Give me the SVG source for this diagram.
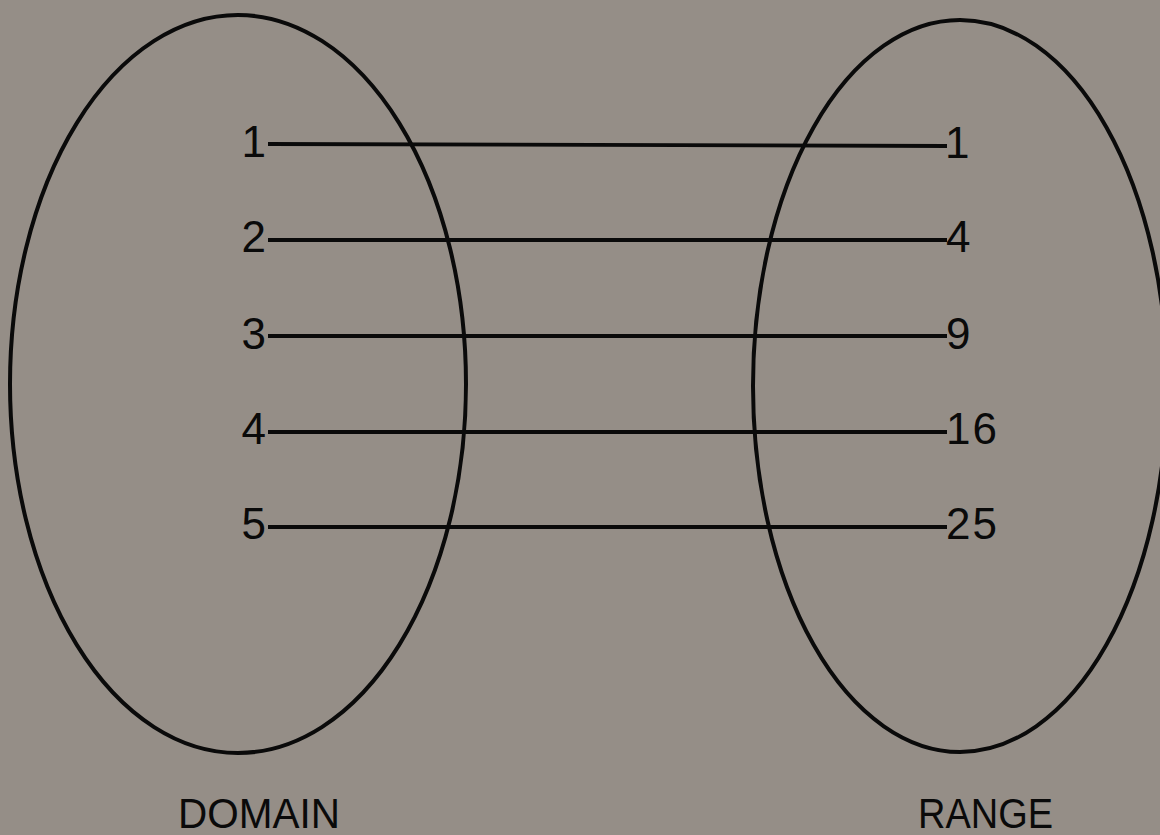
<svg xmlns="http://www.w3.org/2000/svg" width="1160" height="835" viewBox="0 0 1160 835">
<style>
.set{fill:none;stroke:#0a0a0a;stroke-width:4}
.edge{stroke:#0a0a0a;stroke-width:3.8}
.num{font-family:"Liberation Sans",Arial,sans-serif;font-size:44px;fill:#0a0a0a}
.cap{font-family:"Liberation Sans",Arial,sans-serif;font-size:43px;fill:#0a0a0a}
</style>
<rect width="1160" height="835" fill="#958e87"/>
<g id="domain">
<ellipse class="set" cx="238" cy="384" rx="228" ry="369"/>
<text class="cap" x="178" y="828" textLength="162" lengthAdjust="spacingAndGlyphs">DOMAIN</text>
</g>
<g id="range">
<ellipse class="set" cx="960" cy="386" rx="207" ry="366"/>
<text class="cap" x="918" y="828" textLength="135" lengthAdjust="spacingAndGlyphs">RANGE</text>
</g>
<g id="domain-values">
<text class="num" x="266" y="157" text-anchor="end">1</text>
<text class="num" x="266" y="252" text-anchor="end">2</text>
<text class="num" x="266" y="349" text-anchor="end">3</text>
<text class="num" x="266" y="444" text-anchor="end">4</text>
<text class="num" x="266" y="539" text-anchor="end">5</text>
</g>
<g id="range-values">
<text class="num" x="945" y="158">1</text>
<text class="num" x="946" y="252">4</text>
<text class="num" x="946" y="349">9</text>
<text class="num" x="946" y="444" letter-spacing="2">16</text>
<text class="num" x="946" y="539" letter-spacing="2">25</text>
</g>
<g id="connectors">
<line class="edge" x1="268" y1="144" x2="947" y2="146"/>
<line class="edge" x1="268" y1="240" x2="947" y2="240"/>
<line class="edge" x1="268" y1="336" x2="947" y2="336"/>
<line class="edge" x1="268" y1="432" x2="947" y2="432"/>
<line class="edge" x1="268" y1="527" x2="947" y2="527"/>
</g>
</svg>
